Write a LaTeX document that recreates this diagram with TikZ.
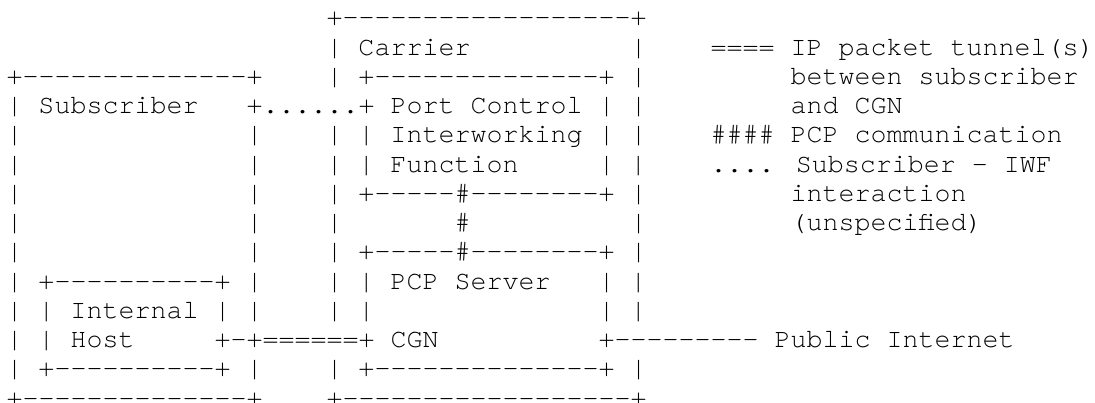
\documentclass[tikz,border=0pt]{standalone}
\usepackage{fontspec}
\newfontfamily\asciifont{TeX Gyre Cursor}
\newcommand\T[4]{\node[txt] (#1) at ({6.5+16*(#2)},{377.2-29.25*((#3)-1)}) {#4};}
\begin{document}
\begin{tikzpicture}[x=1pt,y=1pt,
  txt/.style={anchor=base west,inner sep=0pt,outer sep=0pt,text=black,
    font=\asciifont\fontsize{26.667}{30}\selectfont}]
\fill[white] (0,0) rectangle (1095,403);
\useasboundingbox (0,0) rectangle (1095,403);
% row 1
\T{r1a}{20}{1}{+------------------+}
% row 2
\T{r2a}{20}{2}{| Carrier}
\T{r2b}{39}{2}{|}
\T{r2c}{44}{2}{==== IP packet tunnel(s)}
% row 3
\T{r3a}{0}{3}{+--------------+}
\T{r3b}{20}{3}{| +--------------+ |}
\T{r3c}{49}{3}{between subscriber}
% row 4
\T{r4a}{0}{4}{| Subscriber}
\T{r4b}{15}{4}{+......+ Port Control | |}
\T{r4c}{49}{4}{and CGN}
% row 5
\T{r5a}{0}{5}{|}
\T{r5b}{15}{5}{|}
\T{r5c}{20}{5}{| | Interworking | |}
\T{r5d}{44}{5}{\#\#\#\# PCP communication}
% row 6
\T{r6a}{0}{6}{|}
\T{r6b}{15}{6}{|}
\T{r6c}{20}{6}{| | Function}
\T{r6d}{37}{6}{| |}
\T{r6e}{44}{6}{.... Subscriber - IWF}
% row 7
\T{r7a}{0}{7}{|}
\T{r7b}{15}{7}{|}
\T{r7c}{20}{7}{| +-----\#--------+ |}
\T{r7d}{49}{7}{interaction}
% row 8
\T{r8a}{0}{8}{|}
\T{r8b}{15}{8}{|}
\T{r8c}{20}{8}{|}
\T{r8d}{28}{8}{\#}
\T{r8e}{39}{8}{|}
\T{r8f}{49}{8}{(unspecified)}
% row 9
\T{r9a}{0}{9}{|}
\T{r9b}{15}{9}{|}
\T{r9c}{20}{9}{| +-----\#--------+ |}
% row 10
\T{r10a}{0}{10}{| +----------+ |}
\T{r10b}{20}{10}{| | PCP Server}
\T{r10c}{37}{10}{| |}
% row 11
\T{r11a}{0}{11}{| | Internal | |}
\T{r11b}{20}{11}{| |}
\T{r11c}{37}{11}{| |}
% row 12
\T{r12a}{0}{12}{| | Host}
\T{r12b}{13}{12}{+-+======+ CGN}
\T{r12c}{37}{12}{+--------- Public Internet}
% row 13
\T{r13a}{0}{13}{| +----------+ |}
\T{r13b}{20}{13}{| +--------------+ |}
% row 14
\T{r14a}{0}{14}{+--------------+}
\T{r14b}{20}{14}{+------------------+}
\end{tikzpicture}
\end{document}
